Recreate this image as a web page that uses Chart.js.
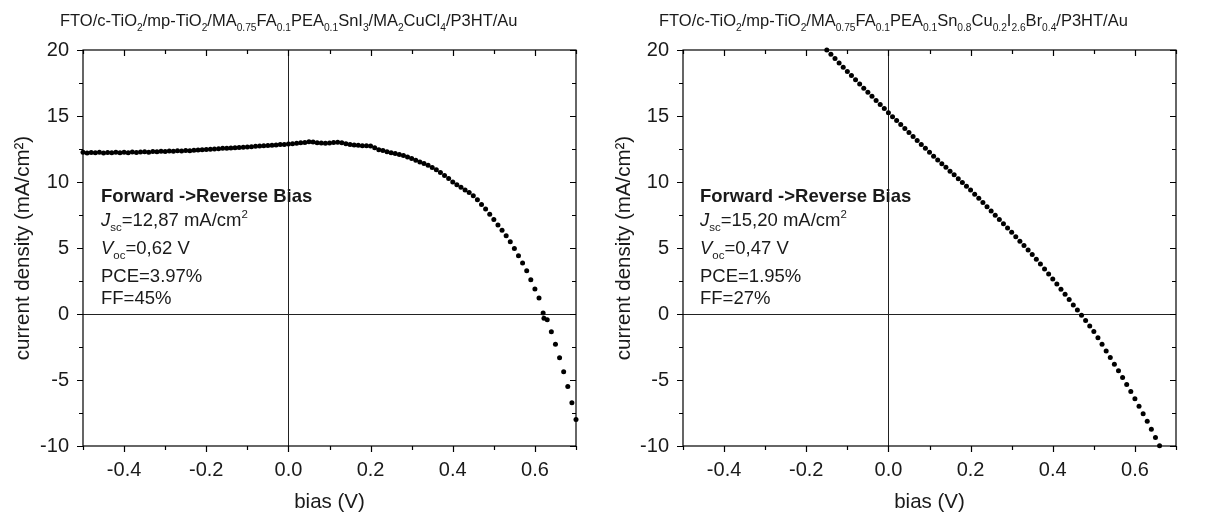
<!DOCTYPE html>
<html>
<head>
<meta charset="utf-8">
<script src="https://cdn.jsdelivr.net/npm/chart.js@4.4.1/dist/chart.umd.min.js"></script>
<style>
  html, body { margin: 0; padding: 0; background: #fff; }
  .row { display: flex; width: 1210px; height: 517px; }
  canvas { display: block; }
</style>
</head>
<body>
<div class="row">
  <canvas id="leftChart" width="605" height="517"></canvas>
  <canvas id="rightChart" width="605" height="517"></canvas>
</div>
<script>
// bias (V) and current density (mA/cm2)
const biasLeft = [
  -0.50, -0.49, -0.48, -0.47, -0.46, -0.45, -0.44, -0.43, -0.42, -0.41,
  -0.40, -0.39, -0.38, -0.37, -0.36, -0.35, -0.34, -0.33, -0.32, -0.31,
  -0.30, -0.29, -0.28, -0.27, -0.26, -0.25, -0.24, -0.23, -0.22, -0.21,
  -0.20, -0.19, -0.18, -0.17, -0.16, -0.15, -0.14, -0.13, -0.12, -0.11,
  -0.10, -0.09, -0.08, -0.07, -0.06, -0.05, -0.04, -0.03, -0.02, -0.01,
  0.00, 0.01, 0.02, 0.03, 0.04, 0.05, 0.06, 0.07, 0.08, 0.09,
  0.10, 0.11, 0.12, 0.13, 0.14, 0.15, 0.16, 0.17, 0.18, 0.19,
  0.20, 0.21, 0.22, 0.23, 0.24, 0.25, 0.26, 0.27, 0.28, 0.29,
  0.30, 0.31, 0.32, 0.33, 0.34, 0.35, 0.36, 0.37, 0.38, 0.39,
  0.40, 0.41, 0.42, 0.43, 0.44, 0.45, 0.46, 0.47, 0.48, 0.49,
  0.50, 0.51, 0.52, 0.53, 0.54, 0.55, 0.56, 0.57, 0.58, 0.59,
  0.60, 0.61, 0.62, 0.622, 0.63, 0.64, 0.65, 0.66, 0.67, 0.68, 0.69, 0.70
];
const currentLeft = [
  12.25, 12.20, 12.24, 12.21, 12.25, 12.20, 12.23, 12.21, 12.26, 12.22,
  12.25, 12.22, 12.27, 12.24, 12.28, 12.30, 12.26, 12.31, 12.29, 12.33,
  12.32, 12.35, 12.33, 12.36, 12.35, 12.38, 12.37, 12.40, 12.42, 12.44,
  12.46, 12.48, 12.50, 12.52, 12.55, 12.56, 12.58, 12.60, 12.62, 12.63,
  12.65, 12.67, 12.70, 12.72, 12.74, 12.76, 12.79, 12.81, 12.84, 12.85,
  12.87, 12.90, 12.93, 12.97, 13.00, 13.05, 13.03, 12.98, 12.95, 12.93,
  12.96, 13.00, 13.02, 12.97, 12.90, 12.85, 12.80, 12.78, 12.75, 12.74,
  12.72, 12.60, 12.45, 12.38, 12.30, 12.22, 12.15, 12.08, 12.00, 11.90,
  11.78, 11.65, 11.52, 11.40, 11.26, 11.10, 10.92, 10.72, 10.50, 10.26,
  10.00, 9.80, 9.60, 9.40, 9.20, 8.95, 8.65, 8.30, 7.95, 7.55,
  7.15, 6.74, 6.35, 5.93, 5.48, 4.97, 4.42, 3.86, 3.28, 2.60,
  1.89, 1.21, 0.08, -0.33, -0.43, -1.34, -2.30, -3.31, -4.37, -5.50, -6.72, -8.00
];
const biasRight = [
  -0.15, -0.14, -0.13, -0.12, -0.11, -0.10, -0.09, -0.08, -0.07, -0.06,
  -0.05, -0.04, -0.03, -0.02, -0.01, 0.00, 0.01, 0.02, 0.03, 0.04,
  0.05, 0.06, 0.07, 0.08, 0.09, 0.10, 0.11, 0.12, 0.13, 0.14,
  0.15, 0.16, 0.17, 0.18, 0.19, 0.20, 0.21, 0.22, 0.23, 0.24,
  0.25, 0.26, 0.27, 0.28, 0.29, 0.30, 0.31, 0.32, 0.33, 0.34,
  0.35, 0.36, 0.37, 0.38, 0.39, 0.40, 0.41, 0.42, 0.43, 0.44,
  0.45, 0.46, 0.47, 0.48, 0.49, 0.50, 0.51, 0.52, 0.53, 0.54,
  0.55, 0.56, 0.57, 0.58, 0.59, 0.60, 0.61, 0.62, 0.63, 0.64,
  0.65, 0.66
];
const currentRight = [
  20.00, 19.67, 19.35, 19.02, 18.70, 18.38, 18.06, 17.74, 17.42, 17.11,
  16.80, 16.49, 16.18, 15.87, 15.56, 15.25, 14.95, 14.65, 14.35, 14.05,
  13.75, 13.45, 13.15, 12.85, 12.55, 12.25, 11.96, 11.67, 11.39, 11.11,
  10.82, 10.54, 10.25, 9.97, 9.68, 9.40, 9.08, 8.76, 8.44, 8.12,
  7.80, 7.48, 7.16, 6.84, 6.52, 6.20, 5.86, 5.52, 5.18, 4.84,
  4.50, 4.14, 3.78, 3.41, 3.03, 2.65, 2.27, 1.88, 1.49, 1.09,
  0.69, 0.31, -0.10, -0.50, -0.90, -1.32, -1.80, -2.30, -2.80, -3.30,
  -3.80, -4.30, -4.82, -5.35, -5.88, -6.42, -6.98, -7.55, -8.13, -8.73,
  -9.35, -9.98
];
const xTickLabels = [-0.4, -0.2, 0.0, 0.2, 0.4, 0.6];
const yTickLabels = [-10, -5, 0, 5, 10, 15, 20];

const FONT = '"Liberation Sans", Arial, sans-serif';
const INK = '#1a1a1a';

// text pieces: sub = subscript, sup = superscript, i = italic, b = bold
function drawParts(ctx, x, y, parts, size) {
    parts.forEach(p => {
        let s = size, dy = 0;
        if (p.sub) { s = size * 0.62; dy = size * 0.28; }
        if (p.sup) { s = size * 0.62; dy = -size * 0.42; }
        ctx.font = (p.i ? 'italic ' : '') + (p.b ? 'bold ' : '') + s + 'px ' + FONT;
        ctx.fillText(p.t, x, y + dy);
        x += ctx.measureText(p.t).width;
    });
}

const framePlugin = {
    id: 'frame',
    beforeDatasetsDraw(chart) {
        const {ctx, chartArea: a, scales: {x, y}} = chart;
        const x0 = Math.round(x.getPixelForValue(0)) + 0.5;
        const y0 = Math.round(y.getPixelForValue(0)) + 0.5;
        ctx.save();
        ctx.strokeStyle = '#222';
        ctx.lineWidth = 1;
        ctx.beginPath();
        ctx.moveTo(x0, a.top); ctx.lineTo(x0, a.bottom);
        ctx.moveTo(a.left, y0); ctx.lineTo(a.right, y0);
        ctx.stroke();
        ctx.restore();
    },
    afterDraw(chart, args, opts) {
        const {ctx, chartArea: a, scales: {x, y}} = chart;
        ctx.save();
        ctx.strokeStyle = '#000';
        ctx.lineWidth = 1.2;
        ctx.strokeRect(a.left, a.top, a.right - a.left, a.bottom - a.top);

        ctx.beginPath();
        for (let i = -5; i <= 7; i++) {
            const px = Math.round(x.getPixelForValue(i / 10)) + 0.5;
            const len = i % 2 === 0 ? 6 : 4;
            ctx.moveTo(px, a.bottom); ctx.lineTo(px, a.bottom + len);
            ctx.moveTo(px, a.top); ctx.lineTo(px, a.top + len);
        }
        for (let j = -4; j <= 8; j++) {
            const py = Math.round(y.getPixelForValue(j * 2.5)) + 0.5;
            const len = j % 2 === 0 ? 6 : 4;
            ctx.moveTo(a.left, py); ctx.lineTo(a.left - len, py);
            ctx.moveTo(a.right, py); ctx.lineTo(a.right - len, py);
        }
        ctx.stroke();

        ctx.fillStyle = INK;
        ctx.textBaseline = 'alphabetic';
        drawParts(ctx, opts.titleX, 26, opts.title, 16.5);
        const lines = [202, 226, 254, 282, 304];
        opts.notes.forEach((parts, k) => {
            drawParts(ctx, opts.notesX, lines[k], parts, 18.5);
        });
        ctx.restore();
    }
};

function makeChart(id, bias, current, yAxisWidth, rightPad, yTitlePad, opts) {
    return new Chart(document.getElementById(id), {
        type: 'scatter',
        data: {
            datasets: [{
                data: bias.map((v, i) => ({x: v, y: current[i]})),
                pointRadius: 2.5,
                pointBorderWidth: 0,
                pointBackgroundColor: '#000',
                clip: false
            }]
        },
        options: {
            responsive: false,
            animation: false,
            layout: {padding: {top: 50, right: rightPad, bottom: 0, left: 0}},
            plugins: {
                legend: {display: false},
                tooltip: {enabled: false},
                frame: opts
            },
            scales: {
                x: {
                    type: 'linear',
                    min: -0.5,
                    max: 0.7,
                    afterBuildTicks: s => { s.ticks = xTickLabels.map(v => ({value: v})); },
                    afterFit: s => { s.height = 71; },
                    grid: {display: false, drawTicks: false},
                    border: {display: false},
                    ticks: {
                        padding: 12,
                        color: INK,
                        font: {family: FONT, size: 20},
                        callback: v => v.toFixed(1)
                    },
                    title: {
                        display: true,
                        text: 'bias (V)',
                        color: INK,
                        font: {family: FONT, size: 20.5},
                        padding: {top: 0, bottom: 2}
                    }
                },
                y: {
                    type: 'linear',
                    min: -10,
                    max: 20,
                    afterBuildTicks: s => { s.ticks = yTickLabels.map(v => ({value: v})); },
                    afterFit: s => { s.width = yAxisWidth; },
                    grid: {display: false, drawTicks: false},
                    border: {display: false},
                    ticks: {
                        padding: 14,
                        color: INK,
                        font: {family: FONT, size: 20},
                        callback: v => String(v)
                    },
                    title: {
                        display: true,
                        text: 'current density (mA/cm²)',
                        color: INK,
                        font: {family: FONT, size: 20.5},
                        padding: {top: yTitlePad, bottom: 0}
                    }
                }
            }
        },
        plugins: [framePlugin]
    });
}

makeChart("leftChart", biasLeft, currentLeft, 83, 29, 11, {
    titleX: 60,
    notesX: 101,
    title: [
        {t: 'FTO/c-TiO'}, {t: '2', sub: true}, {t: '/mp-TiO'}, {t: '2', sub: true},
        {t: '/MA'}, {t: '0.75', sub: true}, {t: 'FA'}, {t: '0.1', sub: true},
        {t: 'PEA'}, {t: '0.1', sub: true}, {t: 'SnI'}, {t: '3', sub: true},
        {t: '/MA'}, {t: '2', sub: true}, {t: 'CuCl'}, {t: '4', sub: true}, {t: '/P3HT/Au'}
    ],
    notes: [
        [{t: 'Forward ->Reverse Bias', b: true}],
        [{t: 'J', i: true}, {t: 'sc', sub: true}, {t: '=12,87 mA/cm'}, {t: '2', sup: true}],
        [{t: 'V', i: true}, {t: 'oc', sub: true}, {t: '=0,62 V'}],
        [{t: 'PCE=3.97%'}],
        [{t: 'FF=45%'}]
    ]
});

makeChart("rightChart", biasRight, currentRight, 78, 34, 7, {
    titleX: 54,
    notesX: 95,
    title: [
        {t: 'FTO/c-TiO'}, {t: '2', sub: true}, {t: '/mp-TiO'}, {t: '2', sub: true},
        {t: '/MA'}, {t: '0.75', sub: true}, {t: 'FA'}, {t: '0.1', sub: true},
        {t: 'PEA'}, {t: '0.1', sub: true}, {t: 'Sn'}, {t: '0.8', sub: true},
        {t: 'Cu'}, {t: '0.2', sub: true}, {t: 'I'}, {t: '2.6', sub: true},
        {t: 'Br'}, {t: '0.4', sub: true}, {t: '/P3HT/Au'}
    ],
    notes: [
        [{t: 'Forward ->Reverse Bias', b: true}],
        [{t: 'J', i: true}, {t: 'sc', sub: true}, {t: '=15,20 mA/cm'}, {t: '2', sup: true}],
        [{t: 'V', i: true}, {t: 'oc', sub: true}, {t: '=0,47 V'}],
        [{t: 'PCE=1.95%'}],
        [{t: 'FF=27%'}]
    ]
});
</script>
</body>
</html>
